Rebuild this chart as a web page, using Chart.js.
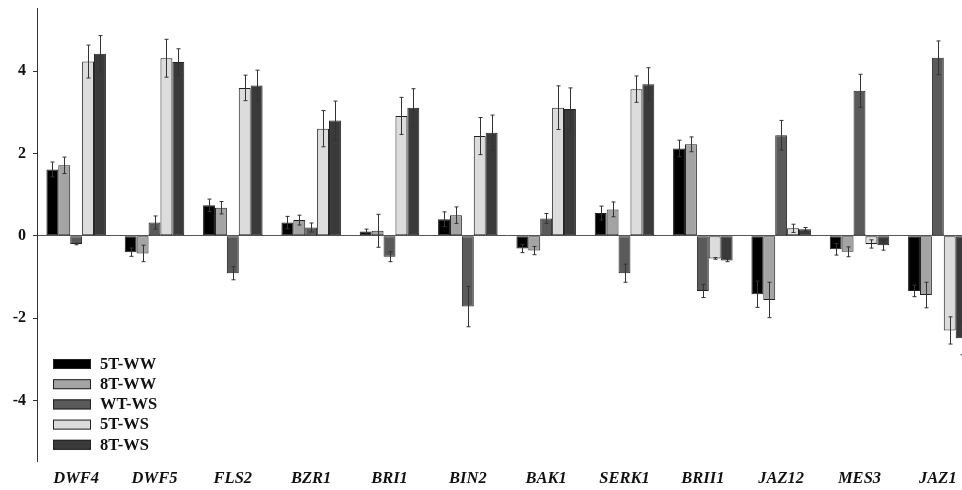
<!DOCTYPE html>
<html>
<head>
<meta charset="utf-8">
<script src="https://cdn.jsdelivr.net/npm/chart.js@4/dist/chart.umd.min.js"></script>
<style>
  html, body { margin: 0; padding: 0; background: #fff; overflow: hidden; }
  #wrap { width: 980px; height: 490px; }
</style>
</head>
<body>
<div id="wrap"><canvas id="myChart"></canvas></div>
<script>
'use strict';

const categories = ['DWF4', 'DWF5', 'FLS2', 'BZR1', 'BRI1', 'BIN2', 'BAK1', 'SERK1', 'BRII1', 'JAZ12', 'MES3', 'JAZ1'];
const seriesNames = ['5T-WW', '8T-WW', 'WT-WS', '5T-WS', '8T-WS'];

const ww5T = [1.61, -0.40, 0.74, 0.32, 0.10, 0.40, -0.31, 0.55, 2.12, -1.42, -0.33, -1.34];
const ww5TErr = [0.18, 0.10, 0.15, 0.15, 0.06, 0.18, 0.10, 0.17, 0.20, 0.32, 0.14, 0.14];
const ww8T = [1.71, -0.43, 0.68, 0.38, 0.12, 0.50, -0.36, 0.64, 2.22, -1.56, -0.39, -1.44];
const ww8TErr = [0.20, 0.20, 0.15, 0.12, 0.40, 0.20, 0.10, 0.18, 0.18, 0.43, 0.12, 0.31];
const wtWS = [-0.20, 0.32, -0.91, 0.20, -0.51, -1.72, 0.42, -0.91, -1.34, 2.44, 3.52, 4.32];
const wtWSErr = [0.02, 0.16, 0.16, 0.11, 0.12, 0.49, 0.12, 0.22, 0.16, 0.36, 0.40, 0.41];
const ws5T = [4.23, 4.31, 3.59, 2.60, 2.91, 2.42, 3.11, 3.56, -0.55, 0.18, -0.20, -2.30];
const ws5TErr = [0.40, 0.46, 0.31, 0.44, 0.45, 0.45, 0.53, 0.32, 0.02, 0.10, 0.10, 0.33];
const ws8T = [4.42, 4.22, 3.65, 2.80, 3.11, 2.50, 3.08, 3.68, -0.60, 0.16, -0.23, -2.49];
const ws8TErr = [0.44, 0.32, 0.37, 0.47, 0.46, 0.43, 0.51, 0.40, 0.03, 0.04, 0.12, 0.40];

const yTicks = [-4, -2, 0, 2, 4];

const colors = ['#000000', '#a4a4a4', '#5a5a5a', '#dcdcdc', '#3a3a3a'];
const values = [ww5T, ww8T, wtWS, ws5T, ws8T];
const errors = [ww5TErr, ww8TErr, wtWSErr, ws5TErr, ws8TErr];

const serif = "'Liberation Serif', 'DejaVu Serif', serif";

// error bars, drawn on top of the bars through the y scale
const errorBars = {
  id: 'errorBars',
  afterDatasetsDraw(chart) {
    const ctx = chart.ctx;
    const y = chart.scales.y;
    ctx.save();
    ctx.strokeStyle = '#333';
    ctx.lineWidth = 1;
    chart.data.datasets.forEach((ds, i) => {
      const meta = chart.getDatasetMeta(i);
      meta.data.forEach((bar, j) => {
        const v = ds.data[j];
        const e = ds.errors[j];
        const x = Math.round(bar.x) + 0.5;
        const top = y.getPixelForValue(v + e);
        const bot = y.getPixelForValue(v - e);
        ctx.beginPath();
        ctx.moveTo(x, top); ctx.lineTo(x, bot);
        ctx.moveTo(x - 2, top); ctx.lineTo(x + 2, top);
        ctx.moveTo(x - 2, bot); ctx.lineTo(x + 2, bot);
        ctx.stroke();
      });
    });
    ctx.restore();
  }
};

// legend inside the lower left of the plot
const boxLegend = {
  id: 'boxLegend',
  afterDraw(chart) {
    const ctx = chart.ctx;
    const left = chart.chartArea.left + 16;
    const top = 359;
    ctx.save();
    ctx.font = 'bold 16.5px ' + serif;
    ctx.textBaseline = 'middle';
    chart.data.datasets.forEach((ds, i) => {
      const yy = top + i * 20.2;
      ctx.fillStyle = ds.backgroundColor;
      ctx.fillRect(left, yy, 38, 10);
      ctx.strokeStyle = '#222';
      ctx.lineWidth = 1;
      ctx.strokeRect(left + 0.5, yy + 0.5, 37, 9);
      ctx.fillStyle = '#111';
      ctx.fillText(ds.label, left + 47, yy + 5.5);
    });
    ctx.restore();
  }
};

function generateChart() {
  const ctx = document.getElementById('myChart');
  return new Chart(ctx, {
    type: 'bar',
    data: {
      labels: categories,
      datasets: seriesNames.map((name, i) => ({
        label: name,
        data: values[i],
        errors: errors[i],
        backgroundColor: colors[i],
        borderColor: '#222',
        borderWidth: 1,
        borderSkipped: false,
        categoryPercentage: 0.76,
        barPercentage: 1.0
      }))
    },
    options: {
      responsive: true,
      maintainAspectRatio: false,
      animation: false,
      layout: { padding: { top: 8, right: 3, left: 0, bottom: 0 } },
      plugins: {
        legend: { display: false },
        tooltip: { enabled: false }
      },
      scales: {
        x: {
          grid: { display: false, drawTicks: false, tickLength: 0 },
          border: { display: false },
          afterFit(scale) {
            scale.height = 29;
          },
          ticks: {
            color: '#111',
            padding: 8,
            maxRotation: 0,
            font: { family: serif, size: 16.5, weight: 'bold', style: 'italic' }
          }
        },
        y: {
          min: -5.47,
          max: 5.53,
          afterBuildTicks(scale) {
            scale.ticks = yTicks.map(v => ({ value: v }));
          },
          afterFit(scale) {
            scale.width = 37;
            scale.paddingTop = 0;
            scale.paddingBottom = 0;
          },
          border: { display: true, color: '#333', width: 1 },
          grid: {
            color: c => (c.tick && c.tick.value === 0 ? '#555' : 'rgba(0,0,0,0)'),
            tickColor: '#333',
            tickLength: 4,
            drawTicks: true
          },
          ticks: {
            color: '#111',
            padding: 7,
            font: { family: serif, size: 16, weight: 'bold' },
            callback: v => String(v)
          }
        }
      }
    },
    plugins: [errorBars, boxLegend]
  });
}

generateChart();
</script>
</body>
</html>
